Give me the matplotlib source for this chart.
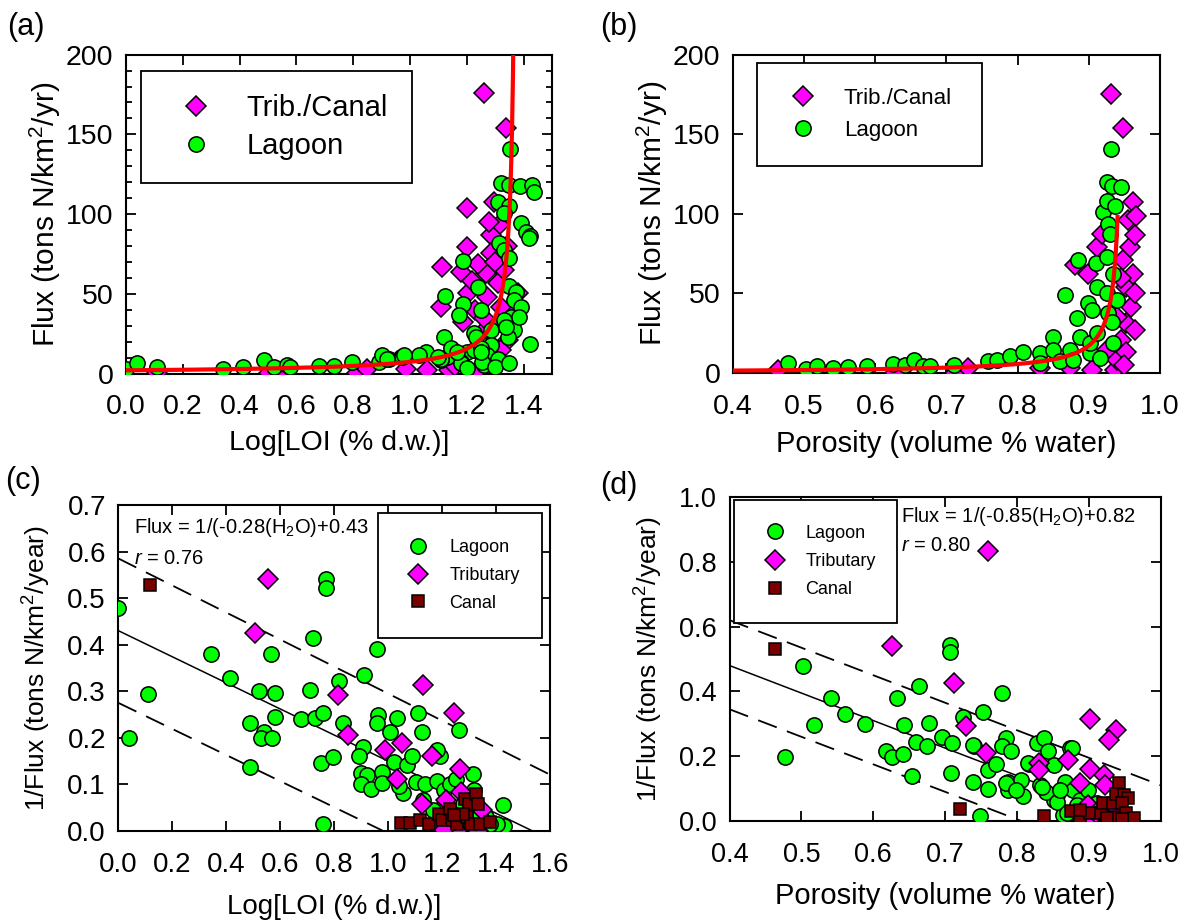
import numpy as np
import matplotlib
matplotlib.use("Agg")
import matplotlib.pyplot as plt
from matplotlib.ticker import MultipleLocator

plt.rcParams['font.family'] = ['Liberation Sans', 'DejaVu Sans']
plt.rcParams['mathtext.fontset'] = 'custom'
plt.rcParams['mathtext.rm'] = 'Liberation Sans'
plt.rcParams['mathtext.it'] = 'Liberation Sans:italic'

# ---- (a) flux vs log LOI ----
a_lag_x = [0.0, 0.038, 0.11, 0.341, 0.412, 0.487, 0.52, 0.567, 0.579, 0.679, 0.732, 0.797,
           0.891, 0.902, 0.926, 0.967, 1.353, 1.322, 1.349, 1.388, 1.428, 1.438, 1.31, 1.349,
           1.332, 1.391, 1.409, 1.424, 1.314, 1.332, 1.349, 1.188, 1.238, 1.122, 1.188, 1.249,
           1.173, 1.349, 1.373, 1.365, 1.391, 1.335, 1.356, 1.424, 1.12, 1.226, 1.285, 1.242,
           1.285, 1.314, 1.273, 1.202, 1.179, 1.132, 1.108, 1.055, 1.032, 0.973, 0.92, 1.261,
           1.226, 1.367, 1.385, 1.42, 1.332, 1.344, 1.232, 1.249, 1.309, 1.255, 1.144, 0.979,
           1.179, 1.108, 1.167, 1.249, 1.338, 1.097, 1.30, 1.35, 1.20]
a_lag_y = [3.1, 6.3, 4.2, 3.1, 3.8, 8.3, 4.2, 5.2, 4.2, 4.6, 4.6, 7.3,
           7.3, 11.5, 9.4, 10.4, 140.8, 119.7, 118.2, 117.6, 118.2, 114, 107.7, 105,
           100.4, 94.1, 88.9, 86.2, 81.6, 77.4, 72.2, 70.7, 54, 48.5, 43.5, 39.7,
           36.6, 54.8, 51.2, 46.4, 41.8, 31.4, 35.5, 18.8, 23, 25.1, 27.2, 19.8,
           17.8, 8.3, 11.5, 13.6, 7.3, 10.4, 8.3, 13.6, 11.5, 10.4, 9.4, 5.2,
           14.6, 27.2, 35.5, 84.7, 33.5, 23, 23, 15.7, 9.4, 7.3, 15.7, 11.5,
           6.3, 9.4, 13.6, 13.6, 29.3, 10.4, 4.0, 6.5, 3.5]
a_trib_x = [0.11, 0.502, 0.553, 0.812, 0.848, 0.985, 1.061, 1.138, 1.238, 1.259, 1.338, 1.2,
            1.296, 1.2, 1.314, 1.285, 1.114, 1.179, 1.267, 1.238, 1.285, 1.206, 1.273, 1.108,
            1.185, 1.309, 1.379, 1.344, 1.32, 1.367, 1.16, 1.30, 1.25, 1.33, 1.23, 1.26,
            1.32, 1.22, 1.30, 1.34, 1.28]
a_trib_y = [0.4, 0.4, 0.0, 0.4, 3.1, 3.1, 2.1, 2.1, 2.1, 175.8, 154.2, 103.6,
            107.7, 79.5, 93.1, 86.8, 66.9, 63.8, 62.8, 69, 75.3, 50.2, 48.1, 41.8,
            32.4, 56.5, 50.2, 20.9, 14.6, 37.7, 5.0, 30.0, 25, 65, 40, 35,
            42, 58, 70, 80, 95]
a_fit = (0.50, 0.363)        # flux = 1 / (a - b*x)

# ---- (b) flux vs porosity ----
b_lag_x = [0.478, 0.503, 0.518, 0.541, 0.562, 0.589, 0.625, 0.642, 0.654, 0.667, 0.677, 0.71,
           0.759, 0.771, 0.789, 0.808, 0.831, 0.831, 0.85, 0.85, 0.859, 0.866, 0.874, 0.878,
           0.883, 0.885, 0.888, 0.899, 0.902, 0.902, 0.904, 0.91, 0.911, 0.911, 0.916, 0.92,
           0.925, 0.925, 0.925, 0.925, 0.927, 0.927, 0.93, 0.931, 0.932, 0.932, 0.934, 0.934,
           0.937, 0.939, 0.946]
b_lag_y = [6.3, 2.5, 4.6, 3.1, 3.8, 4.6, 5.8, 5.2, 8.3, 4.6, 4.6, 5.2,
           7.3, 8.3, 10.4, 13.5, 12.5, 6.3, 22.9, 14.6, 7.3, 48.9, 14.6, 8.3,
           34.4, 70.8, 22.9, 43.8, 12.5, 18.8, 39.6, 68.8, 54.1, 25, 9.4, 101,
           119.8, 108.3, 72.9, 50, 93.8, 37.5, 87.5, 140.6, 117.7, 32.3, 18.8, 62.5,
           105.2, 45.8, 117]
b_trib_x = [0.464, 0.628, 0.712, 0.731, 0.831, 0.874, 0.881, 0.899, 0.904, 0.911, 0.918, 0.925,
            0.931, 0.937, 0.939, 0.946, 0.948, 0.948, 0.953, 0.953, 0.953, 0.955, 0.958, 0.96,
            0.962, 0.962, 0.965, 0.965, 0.965, 0.967, 0.94, 0.945, 0.95]
b_trib_y = [2.1, 0.0, 0.0, 3.1, 3.1, 3.1, 67.7, 62.5, 2.1, 79.1, 87.5, 14.6,
            175.4, 2.1, 8.3, 20.8, 153.7, 70.8, 54.1, 31.3, 13.5, 95.8, 79.1, 41.6,
            107.3, 62.5, 86.4, 50, 27.1, 98.9, 35, 60, 5]
b_fit = (1.12, 1.18)         # flux = 1 / (a - b*p)

# ---- (c) 1/flux vs log LOI ----
c_lag_x = [0.0, 0.039, 0.111, 0.342, 0.412, 0.489, 0.489, 0.521, 0.58, 0.566, 0.538, 0.53,
           0.568, 0.58, 0.677, 0.712, 0.723, 0.73, 0.76, 0.769, 0.769, 0.75, 0.796, 0.76,
           0.817, 0.831, 0.91, 0.957, 0.964, 0.957, 0.907, 0.893, 0.9, 0.922, 0.9, 0.936,
           0.978, 0.978, 1.006, 1.034, 1.02, 1.069, 1.055, 1.041, 1.103, 1.11, 1.124, 1.089,
           1.138, 1.18, 1.194, 1.18, 1.208, 1.229, 1.25, 1.264, 1.313, 1.32, 1.278, 1.362,
           1.425, 1.431, 1.403, 1.208, 1.166, 1.341, 1.376, 1.131, 1.306]
c_lag_y = [0.478, 0.199, 0.294, 0.381, 0.329, 0.231, 0.138, 0.3, 0.296, 0.38, 0.213, 0.2,
           0.2, 0.245, 0.24, 0.302, 0.414, 0.242, 0.253, 0.54, 0.521, 0.145, 0.158, 0.016,
           0.321, 0.231, 0.335, 0.391, 0.249, 0.231, 0.181, 0.16, 0.124, 0.121, 0.1, 0.091,
           0.127, 0.102, 0.213, 0.242, 0.149, 0.142, 0.081, 0.096, 0.106, 0.253, 0.213, 0.16,
           0.101, 0.108, 0.16, 0.174, 0.087, 0.101, 0.112, 0.217, 0.123, 0.088, 0.059, 0.03,
           0.056, 0.011, 0.016, 0.059, 0.045, 0.037, 0.016, 0.066, 0.012]
c_trib_x = [0.556, 0.507, 0.814, 0.852, 1.131, 1.243, 0.987, 1.051, 1.163, 1.033, 1.266, 1.124,
            1.271, 1.215, 1.257, 1.334, 1.348, 1.208, 1.306]
c_trib_y = [0.54, 0.426, 0.292, 0.206, 0.314, 0.253, 0.174, 0.189, 0.16, 0.112, 0.133, 0.059,
            0.084, 0.066, 0.0, 0.0, 0.045, 0.003, 0.059]
c_can_x = [0.117, 1.047, 1.082, 1.117, 1.152, 1.187, 1.201, 1.229, 1.236, 1.257, 1.285, 1.299,
           1.292, 1.306, 1.327, 1.334, 1.341, 1.376, 1.278, 1.243]
c_can_y = [0.529, 0.018, 0.018, 0.023, 0.016, 0.037, 0.023, 0.048, 0.023, 0.016, 0.069, 0.059,
           0.03, 0.016, 0.08, 0.059, 0.016, 0.02, 0.037, 0.034]
c_fit = (-0.28, 0.43)
c_band = [(-0.29, 0.585), (-0.28, 0.275)]

# ---- (d) 1/flux vs porosity ----
d_lag_x = [0.477, 0.502, 0.517, 0.541, 0.56, 0.588, 0.617, 0.626, 0.633, 0.642, 0.641, 0.654,
           0.664, 0.66, 0.677, 0.675, 0.695, 0.707, 0.707, 0.709, 0.708, 0.724, 0.74, 0.739,
           0.753, 0.748, 0.76, 0.76, 0.779, 0.785, 0.779, 0.791, 0.77, 0.787, 0.787, 0.806,
           0.808, 0.816, 0.827, 0.837, 0.843, 0.832, 0.851, 0.851, 0.874, 0.867, 0.864, 0.877,
           0.888, 0.898, 0.911, 0.856, 0.84, 0.739, 0.785, 0.815, 0.834, 0.855, 0.86, 0.869,
           0.883, 0.799, 0.876]
d_lag_y = [0.198, 0.479, 0.296, 0.381, 0.329, 0.299, 0.216, 0.198, 0.381, 0.296, 0.206, 0.139,
           0.417, 0.245, 0.302, 0.231, 0.26, 0.543, 0.523, 0.242, 0.147, 0.322, 0.231, 0.121,
           0.337, 0.016, 0.157, 0.098, 0.394, 0.255, 0.231, 0.216, 0.175, 0.121, 0.096, 0.127,
           0.077, 0.175, 0.242, 0.255, 0.216, 0.111, 0.173, 0.065, 0.224, 0.121, 0.019, 0.096,
           0.065, 0.096, 0.055, 0.08, 0.09, 0.235, 0.116, 0.178, 0.106, 0.06, 0.096, 0.024,
           0.049, 0.096, 0.224]
d_trib_x = [0.76, 0.626, 0.712, 0.729, 0.756, 0.83, 0.83, 0.871, 0.901, 0.938, 0.928, 0.901,
            0.888, 0.921, 0.922, 0.898, 0.901, 0.93, 0.946, 0.909, 0.935]
d_trib_y = [0.833, 0.541, 0.427, 0.294, 0.209, 0.178, 0.157, 0.188, 0.314, 0.281, 0.25, 0.16,
            0.116, 0.142, 0.111, 0.049, 0.003, 0.0, 0.0, 0.024, 0.044]
d_can_x = [0.463, 0.72, 0.838, 0.875, 0.888, 0.901, 0.917, 0.92, 0.933, 0.941, 0.938, 0.949,
           0.954, 0.946, 0.935, 0.951, 0.962, 0.946, 0.925, 0.888]
d_can_y = [0.531, 0.037, 0.016, 0.032, 0.013, 0.024, 0.024, 0.055, 0.055, 0.118, 0.085, 0.08,
           0.07, 0.055, 0.013, 0.024, 0.008, 0.005, 0.008, 0.034]
d_fit = (-0.85, 0.82)
d_band = [(-0.85, 0.96), (-0.85, 0.685)]

GREEN = '#00ff00'
MAG = '#ff00ff'
MAROON = '#7a0000'


def style_axes(ax, xmaj, ymaj, tick_fs, yminor=None):
    ax.xaxis.set_major_locator(MultipleLocator(xmaj))
    ax.yaxis.set_major_locator(MultipleLocator(ymaj))
    if yminor:
        ax.yaxis.set_minor_locator(MultipleLocator(yminor))
    ax.tick_params(which='both', direction='in', top=True, right=True,
                   labelsize=tick_fs, width=1.3)
    ax.tick_params(which='major', length=7)
    ax.tick_params(which='minor', length=4.5)
    ax.tick_params(axis='x', which='major', pad=15)
    ax.tick_params(axis='y', which='major', pad=9)
    for s in ax.spines.values():
        s.set_linewidth(1.5)


def add_legend(ax, handles, labels, bbox, fs, borderpad, hl, htp, spacing):
    leg = ax.legend(handles, labels, loc='upper left', bbox_to_anchor=bbox, mode='expand',
                    borderaxespad=0, fontsize=fs, frameon=True, fancybox=False,
                    edgecolor='black', framealpha=1, numpoints=1, borderpad=borderpad,
                    handlelength=hl, handletextpad=htp, labelspacing=spacing)
    leg.get_frame().set_linewidth(1.3)
    return leg


def pts(ax, x, y, marker, color, ms, z):
    return ax.plot(x, y, linestyle='none', marker=marker, markersize=ms,
                   markerfacecolor=color, markeredgecolor='black',
                   markeredgewidth=1.1, zorder=z)[0]


fig = plt.figure(figsize=(11.86, 9.22), dpi=100)
ax_a = fig.add_axes([0.1062, 0.5949, 0.3592, 0.3458])
ax_b = fig.add_axes([0.6180, 0.5954, 0.3600, 0.3454])
ax_c = fig.add_axes([0.0999, 0.0987, 0.3638, 0.3536])
ax_d = fig.add_axes([0.6151, 0.1095, 0.3638, 0.3514])

# (a)
tr = pts(ax_a, a_trib_x, a_trib_y, 'D', MAG, 10.5, 3)
lg = pts(ax_a, a_lag_x, a_lag_y, 'o', GREEN, 11, 4)
xf = np.linspace(0, 1.3765, 400)
ax_a.plot(xf, 1.0 / (a_fit[0] - a_fit[1] * xf), color='red', lw=3, zorder=5)
ax_a.set_xlim(0, 1.5)
ax_a.set_ylim(0, 200)
style_axes(ax_a, 0.2, 50, 20.5, 10)
ax_a.set_xticks(np.arange(0, 1.41, 0.2))
ax_a.set_xlabel('Log[LOI (% d.w.)]', fontsize=20.5, labelpad=7)
ax_a.set_ylabel('Flux (tons N/km$^2$/yr)', fontsize=21.5, labelpad=2)
add_legend(ax_a, [tr, lg], ['Trib./Canal', 'Lagoon'], (0.035, 0.0, 0.636, 0.949),
           21, 0.8, 2.17, 0.66, 0.33)

# (b)
tr = pts(ax_b, b_trib_x, b_trib_y, 'D', MAG, 10.5, 3)
lg = pts(ax_b, b_lag_x, b_lag_y, 'o', GREEN, 11, 4)
pf = np.linspace(0.4, 0.9405, 400)
ax_b.plot(pf, 1.0 / (b_fit[0] - b_fit[1] * pf), color='red', lw=3, zorder=5)
ax_b.set_xlim(0.4, 1.0)
ax_b.set_ylim(0, 200)
style_axes(ax_b, 0.1, 50, 20.5)
ax_b.set_xlabel('Porosity (volume % water)', fontsize=21, labelpad=7)
ax_b.set_ylabel('Flux (tons N/km$^2$/yr)', fontsize=21.5, labelpad=2)
add_legend(ax_b, [tr, lg], ['Trib./Canal', 'Lagoon'], (0.056, 0.0, 0.527, 0.973),
           16, 1.11, 1.93, 0.88, 0.51)

# (c)
lg = pts(ax_c, c_lag_x, c_lag_y, 'o', GREEN, 11, 3)
tr = pts(ax_c, c_trib_x, c_trib_y, 'D', MAG, 10.5, 4)
cn = pts(ax_c, c_can_x, c_can_y, 's', MAROON, 8, 5)
m, b = c_fit
xl = np.linspace(0, min(1.6, -b / m), 50)
ax_c.plot(xl, m * xl + b, color='black', lw=1.1, zorder=2)
for m, b in c_band:
    xl = np.linspace(0, min(1.6, -b / m), 50)
    ax_c.plot(xl, m * xl + b, color='black', lw=1.3, dashes=(11, 6), zorder=2)
ax_c.set_xlim(0, 1.6)
ax_c.set_ylim(0, 0.7)
style_axes(ax_c, 0.2, 0.1, 20)
ax_c.set_xlabel('Log[LOI (% d.w.)]', fontsize=20, labelpad=12)
ax_c.set_ylabel('1/Flux (tons N/km$^2$/year)', fontsize=19, labelpad=10)
ax_c.text(0.035, 0.93, 'Flux = 1/(-0.28(H$_2$O)+0.43', transform=ax_c.transAxes,
          fontsize=14.5, va='center', ha='left')
ax_c.text(0.035, 0.836, '$r$ = 0.76', transform=ax_c.transAxes,
          fontsize=14.5, va='center', ha='left')
add_legend(ax_c, [lg, tr, cn], ['Lagoon', 'Tributary', 'Canal'], (0.601, 0.0, 0.38, 0.975),
           13, 1.45, 1.6, 0.92, 0.59)

# (d)
lg = pts(ax_d, d_lag_x, d_lag_y, 'o', GREEN, 11, 3)
tr = pts(ax_d, d_trib_x, d_trib_y, 'D', MAG, 10, 4)
cn = pts(ax_d, d_can_x, d_can_y, 's', MAROON, 8, 5)
m, b = d_fit
xl = np.linspace(0.4, min(1.0, -b / m), 50)
ax_d.plot(xl, m * xl + b, color='black', lw=1.1, zorder=2)
for m, b in d_band:
    xl = np.linspace(0.4, min(1.0, -b / m), 50)
    ax_d.plot(xl, m * xl + b, color='black', lw=1.3, dashes=(11, 6), zorder=2)
ax_d.set_xlim(0.4, 1.0)
ax_d.set_ylim(0, 1.0)
style_axes(ax_d, 0.1, 0.2, 19.5)
ax_d.set_xlabel('Porosity (volume % water)', fontsize=21, labelpad=10)
ax_d.set_ylabel('1/Flux (tons N/km$^2$/year)', fontsize=19, labelpad=10)
ax_d.text(0.398, 0.94, 'Flux = 1/(-0.85(H$_2$O)+0.82', transform=ax_d.transAxes,
          fontsize=14.5, va='center', ha='left')
ax_d.text(0.398, 0.85, '$r$ = 0.80', transform=ax_d.transAxes,
          fontsize=14.5, va='center', ha='left')
add_legend(ax_d, [lg, tr, cn], ['Lagoon', 'Tributary', 'Canal'], (0.0097, 0.0, 0.378, 0.991),
           13, 1.37, 1.82, 0.78, 0.62)

# panel letters
for lab, x, y in [('(a)', 0.006, 0.971), ('(b)', 0.506, 0.971),
                  ('(c)', 0.004, 0.478), ('(d)', 0.506, 0.473)]:
    fig.text(x, y, lab, fontsize=22, ha='left', va='center')

fig.savefig('out.png', dpi=100)
